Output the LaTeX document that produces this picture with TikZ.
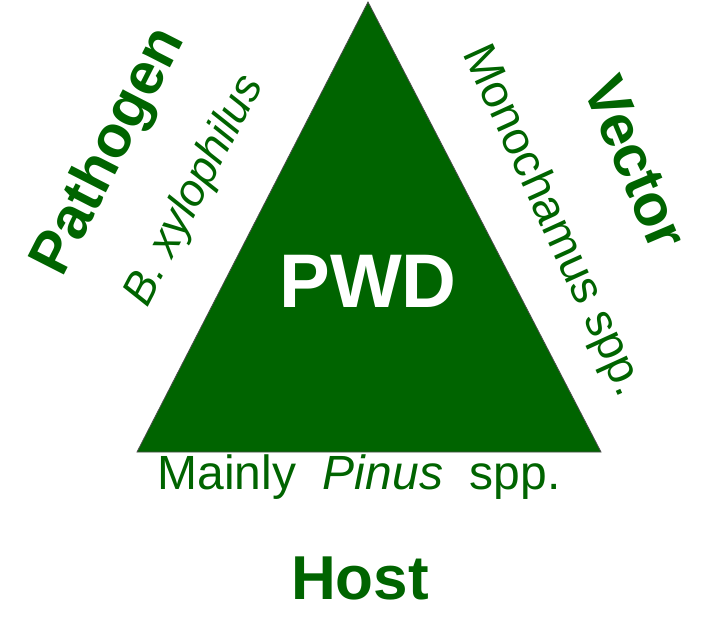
\documentclass[tikz,border=0pt]{standalone}
\usepackage{fontspec}
\setmainfont{Liberation Sans}
\definecolor{pwdgreen}{RGB}{0,100,0}
\tikzset{
  biglabel/.style={text=pwdgreen, font=\bfseries\fontsize{59}{66}\selectfont, inner sep=0pt},
  smalllabel/.style={text=pwdgreen, font=\fontsize{48}{54}\selectfont, inner sep=0pt},
  tri/.style={fill=pwdgreen, draw=black!70, line width=0.8pt, line join=miter}
}
\begin{document}
\begin{tikzpicture}[x=1pt,y=-1pt]
\useasboundingbox (0,0) rectangle (707,619);
\coordinate (apex) at (368,2);
\coordinate (bl) at (137,452);
\coordinate (br) at (601,452);
\draw[tri] (apex) -- (br) -- (bl) -- cycle;
\node[text=white, font=\bfseries\fontsize{76}{80}\selectfont, inner sep=0pt] (pwd) at (368,281) {PWD};
\node[biglabel, rotate=63] (pathogen) at (110,152) {Pathogen};
\node[smalllabel, font=\itshape\fontsize{45}{50}\selectfont, rotate=62.5] (bx) at (195,191) {B. xylophilus};
\node[biglabel, rotate=-67] (vector) at (636,163) {Vector};
\node[smalllabel, font=\fontsize{46.5}{52}\selectfont, rotate=-65.5] (mono) at (552,221) {Monochamus spp.};
\node[smalllabel, anchor=base] (pinus) at (359,489) {Mainly\ \ \textit{Pinus}\ \ spp.};
\node[biglabel, font=\bfseries\fontsize{62}{68}\selectfont] (host) at (360,578) {Host};
\end{tikzpicture}
\end{document}
